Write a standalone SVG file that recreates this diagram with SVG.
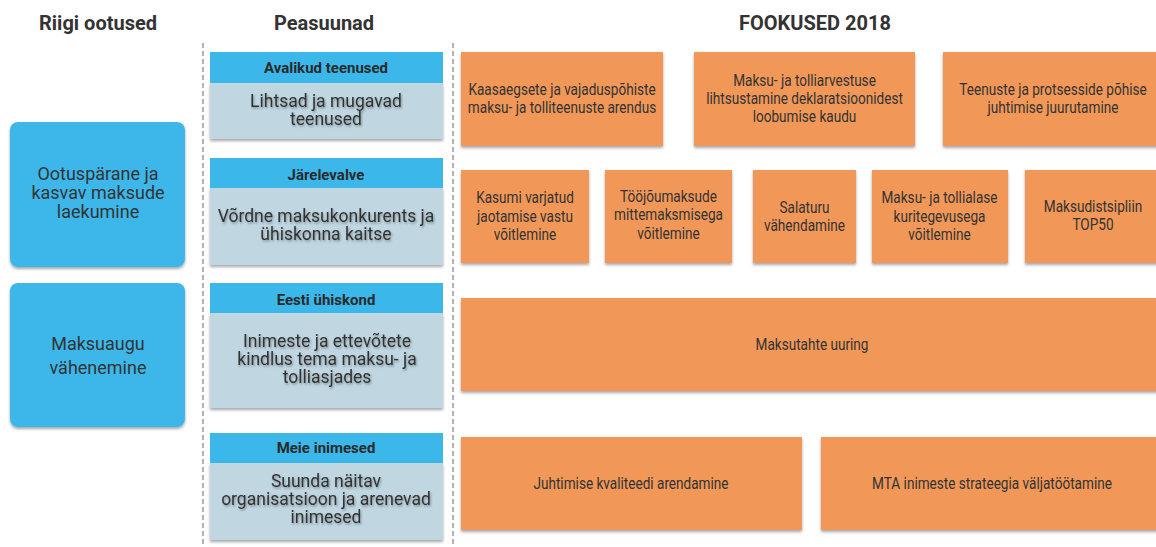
<svg xmlns="http://www.w3.org/2000/svg" width="1156" height="547" viewBox="0 0 1156 547">
<defs>
<filter id="sh" x="-10%" y="-10%" width="120%" height="130%">
<feDropShadow dx="0" dy="2" stdDeviation="1.5" flood-color="#000" flood-opacity="0.35"/>
</filter>
<filter id="tsh" x="-10%" y="-30%" width="120%" height="160%">
<feDropShadow dx="1" dy="1.5" stdDeviation="1.2" flood-color="#000" flood-opacity="0.35"/>
</filter>
</defs>
<style>
.title{font-family:Roboto,"Liberation Sans",sans-serif;font-weight:bold;font-size:20px;fill:#333;text-anchor:middle}
.blue{fill:#3CB7EA}
.body{fill:#C0D7E2}
.orange{fill:#F19859}
.hdr{font-family:Roboto,"Liberation Sans",sans-serif;font-weight:bold;font-size:15px;fill:#2a2a2a;text-anchor:middle}
.btxt{font-family:Roboto,"Liberation Sans",sans-serif;font-size:17.5px;fill:#333;text-anchor:middle}
.ltxt{font-family:Roboto,"Liberation Sans",sans-serif;font-size:18px;fill:#333;text-anchor:middle}
.otxt{font-family:Roboto,"Liberation Sans",sans-serif;font-size:16px;fill:#333;text-anchor:middle}
.dash{stroke:#999;stroke-width:1.5;stroke-dasharray:5 3;fill:none}
</style>
<rect width="1156" height="547" fill="#fff"/>

<g id="titles">
<text class="title" x="98" y="30">Riigi ootused</text>
<text class="title" x="324" y="30">Peasuunad</text>
<text class="title" x="815" y="30">FOOKUSED 2018</text>
</g>

<g id="separators">
<line class="dash" x1="203" y1="43" x2="203" y2="547"/>
<line class="dash" x1="453" y1="43" x2="453" y2="547"/>
</g>

<g id="riik1">
<rect class="blue" x="10" y="122" width="175" height="145" rx="8" filter="url(#sh)"/>
<text class="ltxt"><tspan x="98" y="180">Ootuspärane ja</tspan><tspan x="98" y="199">kasvav maksude</tspan><tspan x="98" y="218">laekumine</tspan></text>
</g>
<g id="riik2">
<rect class="blue" x="10" y="283" width="175" height="144" rx="8" filter="url(#sh)"/>
<text class="ltxt"><tspan x="98" y="350">Maksuaugu</tspan><tspan x="98" y="374">vähenemine</tspan></text>
</g>

<g id="pea1">
<rect class="body" x="210" y="83" width="233" height="56" filter="url(#sh)"/>
<rect class="blue" x="210" y="52" width="233" height="31"/>
<text class="hdr" x="326" y="73">Avalikud teenused</text>
<g filter="url(#tsh)"><text class="btxt"><tspan x="326" y="107">Lihtsad ja mugavad</tspan><tspan x="326" y="125">teenused</tspan></text></g>
</g>
<g id="pea2">
<rect class="body" x="210" y="188" width="233" height="77" filter="url(#sh)"/>
<rect class="blue" x="210" y="158" width="233" height="30"/>
<text class="hdr" x="326" y="180">Järelevalve</text>
<g filter="url(#tsh)"><text class="btxt"><tspan x="326" y="222">Võrdne maksukonkurents ja</tspan><tspan x="326" y="240">ühiskonna kaitse</tspan></text></g>
</g>
<g id="pea3">
<rect class="body" x="210" y="313" width="233" height="95" filter="url(#sh)"/>
<rect class="blue" x="210" y="283" width="233" height="30"/>
<text class="hdr" x="326" y="305">Eesti ühiskond</text>
<g filter="url(#tsh)"><text class="btxt"><tspan x="327" y="347">Inimeste ja ettevõtete</tspan><tspan x="327" y="365">kindlus tema maksu- ja</tspan><tspan x="327" y="383">tolliasjades</tspan></text></g>
</g>
<g id="pea4">
<rect class="body" x="210" y="463" width="233" height="77" filter="url(#sh)"/>
<rect class="blue" x="210" y="433" width="233" height="30"/>
<text class="hdr" x="326" y="453">Meie inimesed</text>
<g filter="url(#tsh)"><text class="btxt"><tspan x="326" y="487">Suunda näitav</tspan><tspan x="326" y="505">organisatsioon ja arenevad</tspan><tspan x="326" y="523">inimesed</tspan></text></g>
</g>

<g id="f1">
<rect class="orange" x="461" y="52" width="202" height="94" filter="url(#sh)"/>
<text class="otxt" transform="translate(562,0) scale(0.85,1)"><tspan x="0" y="95">Kaasaegsete  ja vajaduspõhiste</tspan><tspan x="0" y="113">maksu- ja tolliteenuste arendus</tspan></text>
</g>
<g id="f2">
<rect class="orange" x="694" y="52" width="221" height="94" filter="url(#sh)"/>
<text class="otxt" transform="translate(804.5,0) scale(0.85,1)"><tspan x="0" y="86">Maksu- ja tolliarvestuse</tspan><tspan x="0" y="104">lihtsustamine deklaratsioonidest</tspan><tspan x="0" y="122">loobumise kaudu</tspan></text>
</g>
<g id="f3">
<rect class="orange" x="943" y="52" width="220" height="94" filter="url(#sh)"/>
<text class="otxt" transform="translate(1053,0) scale(0.85,1)"><tspan x="0" y="95">Teenuste ja protsesside põhise</tspan><tspan x="0" y="113">juhtimise juurutamine</tspan></text>
</g>
<g id="f4">
<rect class="orange" x="461" y="170" width="128" height="93" filter="url(#sh)"/>
<text class="otxt" transform="translate(525,0) scale(0.85,1)"><tspan x="0" y="203">Kasumi varjatud</tspan><tspan x="0" y="222">jaotamise vastu</tspan><tspan x="0" y="240">võitlemine</tspan></text>
</g>
<g id="f5">
<rect class="orange" x="605" y="170" width="127" height="93" filter="url(#sh)"/>
<text class="otxt" transform="translate(668.5,0) scale(0.85,1)"><tspan x="0" y="202">Tööjõumaksude</tspan><tspan x="0" y="220">mittemaksmisega</tspan><tspan x="0" y="239">võitlemine</tspan></text>
</g>
<g id="f6">
<rect class="orange" x="753" y="170" width="103" height="93" filter="url(#sh)"/>
<text class="otxt" transform="translate(804.5,0) scale(0.85,1)"><tspan x="0" y="213">Salaturu</tspan><tspan x="0" y="231">vähendamine</tspan></text>
</g>
<g id="f7">
<rect class="orange" x="872" y="170" width="136" height="93" filter="url(#sh)"/>
<text class="otxt" transform="translate(939.5,0) scale(0.85,1)"><tspan x="0" y="203">Maksu- ja tollialase</tspan><tspan x="0" y="222">kuritegevusega</tspan><tspan x="0" y="240">võitlemine</tspan></text>
</g>
<g id="f8">
<rect class="orange" x="1025" y="170" width="140" height="93" filter="url(#sh)"/>
<text class="otxt" transform="translate(1093,0) scale(0.85,1)"><tspan x="0" y="212">Maksudistsipliin</tspan><tspan x="0" y="230">TOP50</tspan></text>
</g>
<g id="f9">
<rect class="orange" x="461" y="298" width="710" height="93" filter="url(#sh)"/>
<text class="otxt" transform="translate(812,0) scale(0.85,1)" x="0" y="350">Maksutahte uuring</text>
</g>
<g id="f10">
<rect class="orange" x="461" y="437" width="341" height="93" filter="url(#sh)"/>
<text class="otxt" transform="translate(631,0) scale(0.85,1)" x="0" y="489">Juhtimise kvaliteedi arendamine</text>
</g>
<g id="f11">
<rect class="orange" x="821" y="437" width="350" height="93" filter="url(#sh)"/>
<text class="otxt" transform="translate(992,0) scale(0.85,1)" x="0" y="489">MTA inimeste strateegia väljatöötamine</text>
</g>
</svg>
